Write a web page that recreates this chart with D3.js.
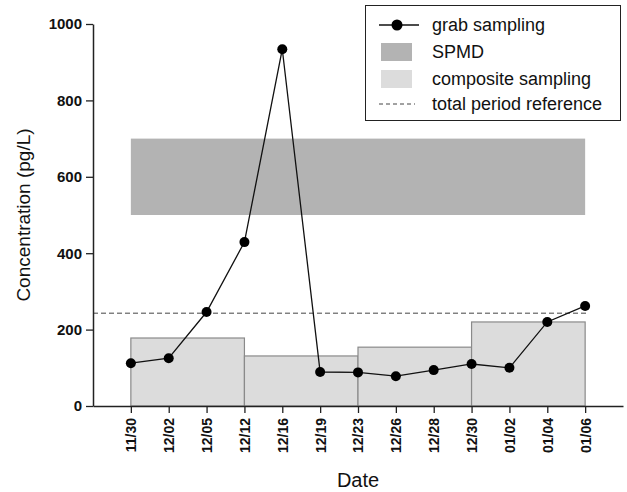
<!DOCTYPE html>
<html>
<head>
<meta charset="utf-8">
<script src="https://cdn.jsdelivr.net/npm/d3@7"></script>
<style>
  body { margin: 0; background: #fff; }
  svg { font-family: "Liberation Sans", Arial, sans-serif; }
</style>
</head>
<body>
<svg id="chart"></svg>
<script>
const dates = ["11/30", "12/02", "12/05", "12/12", "12/16", "12/19", "12/23", "12/26", "12/28", "12/30", "01/02", "01/04", "01/06"];
const grab = [112, 125, 246, 429, 934, 89, 88, 78, 94, 110, 100, 220, 262];
const compStart = ["11/30", "12/12", "12/23", "12/30"];
const compEnd = ["12/12", "12/23", "12/30", "01/06"];
const compValue = [178, 131, 154, 220];
const spmdRange = [500, 700];
const reference = 243;
const yTicks = [0, 200, 400, 600, 800, 1000];

const width = 627;
const height = 492;
const plotLeft = 93, plotRight = 623, plotTop = 24, plotBottom = 406;

const svg = d3.select("#chart")
    .attr("width", width)
    .attr("height", height);

const xScale = d3.scalePoint()
    .domain(dates)
    .range([plotLeft, plotRight])
    .padding(1);

const yScale = d3.scaleLinear()
    .domain([0, 1000])
    .range([plotBottom, plotTop]);

// SPMD band
svg.append("rect")
    .attr("x", xScale(dates[0]))
    .attr("y", yScale(spmdRange[1]))
    .attr("width", xScale(dates[dates.length - 1]) - xScale(dates[0]))
    .attr("height", yScale(spmdRange[0]) - yScale(spmdRange[1]))
    .attr("fill", "#b3b3b3");

// composite bars
svg.selectAll(".comp")
    .data(compValue)
    .enter()
    .append("rect")
    .attr("class", "comp")
    .attr("x", (d, i) => xScale(compStart[i]))
    .attr("y", d => yScale(d))
    .attr("width", (d, i) => xScale(compEnd[i]) - xScale(compStart[i]))
    .attr("height", d => plotBottom - yScale(d))
    .attr("fill", "#dcdcdc")
    .attr("stroke", "#8a8a8a")
    .attr("stroke-width", 1.2);

// reference line
svg.append("line")
    .attr("x1", plotLeft)
    .attr("x2", xScale(dates[dates.length - 1]) + 2)
    .attr("y1", yScale(reference))
    .attr("y2", yScale(reference))
    .attr("stroke", "#444")
    .attr("stroke-width", 1)
    .attr("stroke-dasharray", "5,3");

// axes
const xAxis = d3.axisBottom(xScale).tickSize(7).tickSizeOuter(0);
const yAxis = d3.axisLeft(yScale).tickValues(yTicks).tickFormat(d3.format("d")).tickSize(7).tickSizeOuter(0);

const gx = svg.append("g")
    .attr("transform", `translate(0, ${plotBottom})`)
    .call(xAxis);
gx.select(".domain").attr("stroke", "#222").attr("stroke-width", 1.5);
gx.selectAll(".tick line").attr("stroke", "#222").attr("stroke-width", 1.3);
gx.selectAll(".tick text")
    .attr("transform", "rotate(-90)")
    .attr("text-anchor", "end")
    .attr("x", -12)
    .attr("y", 0)
    .attr("dy", "0.35em")
    .attr("font-size", 14)
    .attr("font-weight", "bold")
    .attr("fill", "#111");

const gy = svg.append("g")
    .attr("transform", `translate(${plotLeft}, 0)`)
    .call(yAxis);
gy.select(".domain").attr("stroke", "#222").attr("stroke-width", 1.5);
gy.selectAll(".tick line").attr("stroke", "#222").attr("stroke-width", 1.3);
gy.selectAll(".tick text")
    .attr("x", -11)
    .attr("font-size", 15)
    .attr("font-weight", "bold")
    .attr("fill", "#111");

// grab sampling line
const line = d3.line()
    .x((d, i) => xScale(dates[i]))
    .y(d => yScale(d));

svg.append("path")
    .datum(grab)
    .attr("d", line)
    .attr("fill", "none")
    .attr("stroke", "#111")
    .attr("stroke-width", 1.3);

svg.selectAll(".dot")
    .data(grab)
    .enter()
    .append("circle")
    .attr("class", "dot")
    .attr("cx", (d, i) => xScale(dates[i]))
    .attr("cy", d => yScale(d))
    .attr("r", 5)
    .attr("fill", "#000");

// axis titles
svg.append("text")
    .attr("x", 358)
    .attr("y", 487)
    .attr("text-anchor", "middle")
    .attr("font-size", 20)
    .attr("fill", "#111")
    .text("Date");

svg.append("text")
    .attr("transform", "translate(30, 215) rotate(-90)")
    .attr("text-anchor", "middle")
    .attr("font-size", 19)
    .attr("fill", "#111")
    .text("Concentration (pg/L)");

// legend
const legend = svg.append("g");
legend.append("rect")
    .attr("x", 365.5)
    .attr("y", 5.5)
    .attr("width", 255)
    .attr("height", 115)
    .attr("fill", "#fff")
    .attr("stroke", "#222")
    .attr("stroke-width", 1);

const legendLabels = ["grab sampling", "SPMD", "composite sampling", "total period reference"];
const rowY = [25, 52, 79, 104];

legend.selectAll(".ltext")
    .data(legendLabels)
    .enter()
    .append("text")
    .attr("x", 432)
    .attr("y", (d, i) => rowY[i])
    .attr("dy", "0.35em")
    .attr("font-size", 18)
    .attr("fill", "#111")
    .text(d => d);

legend.append("line")
    .attr("x1", 379).attr("x2", 419)
    .attr("y1", rowY[0]).attr("y2", rowY[0])
    .attr("stroke", "#111").attr("stroke-width", 1.3);
legend.append("circle")
    .attr("cx", 397).attr("cy", rowY[0]).attr("r", 5.5).attr("fill", "#000");
legend.append("rect")
    .attr("x", 381).attr("y", rowY[1] - 9).attr("width", 31).attr("height", 18)
    .attr("fill", "#b3b3b3");
legend.append("rect")
    .attr("x", 381).attr("y", rowY[2] - 9).attr("width", 31).attr("height", 18)
    .attr("fill", "#dcdcdc");
legend.append("line")
    .attr("x1", 379).attr("x2", 415)
    .attr("y1", rowY[3]).attr("y2", rowY[3])
    .attr("stroke", "#444").attr("stroke-width", 1)
    .attr("stroke-dasharray", "4,3");
</script>
</body>
</html>
